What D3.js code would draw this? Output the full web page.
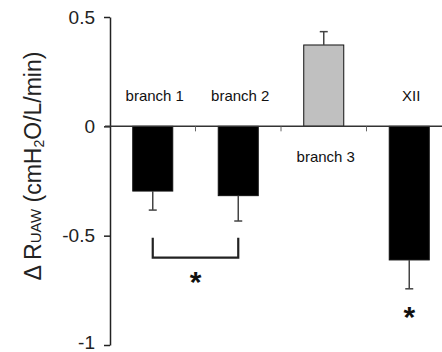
<!DOCTYPE html>
<html>
<head>
<meta charset="utf-8">
<script src="https://cdn.jsdelivr.net/npm/d3@7"></script>
<style>
  body { margin: 0; background: #fff; }
  text { font-family: "Liberation Sans", Arial, sans-serif; }
</style>
</head>
<body>
<svg id="chart" width="442" height="352"></svg>
<script>
// data
var categories = ['branch 1', 'branch 2', 'branch 3', 'XII']
var means = [-0.296, -0.317, 0.372, -0.611]
var errors = [0.087, 0.116, 0.061, 0.132]
var barColors = ['#000', '#000', '#c0c0c0', '#000']
var yTicks = [0.5, 0, -0.5, -1]
var yTickLabels = ['0.5', '0', '-0.5', '-1']
// significance marks
var bracketFrom = 'branch 1', bracketTo = 'branch 2'
var bracketTop = -0.51, bracketBottom = -0.6
var stars = [
  { between: ['branch 1', 'branch 2'], value: -0.69 },
  { between: ['XII', 'XII'], value: -0.85 }
]

var svg = d3.select('#chart')

var y = d3.scaleLinear().domain([-1, 0.5]).range([345, 17])
var x = d3.scaleBand().domain(categories).range([110, 452])
  .paddingInner(0.532).paddingOuter(0.266)
var bw = x.bandwidth()
var step = x.step()
function cx(c) { return x(c) + bw / 2 }

// y axis
var yAxis = d3.axisLeft(y).tickValues(yTicks)
  .tickFormat(function(d, i) { return yTickLabels[i] })
  .tickSize(6).tickSizeOuter(0).tickPadding(9)
var ga = svg.append('g').attr('transform', 'translate(110,0)').call(yAxis)
ga.select('.domain').attr('stroke', '#222').attr('stroke-width', 1.5)
ga.selectAll('.tick line').attr('stroke', '#222').attr('stroke-width', 1.5)
ga.selectAll('.tick text').attr('font-size', 19).attr('fill', '#222')
  .attr('font-family', '"Liberation Sans", Arial, sans-serif')
  .attr('dy', function(d) { return d === -1 ? '0.16em' : '0.32em' })

// axis title
var title = svg.append('text')
  .attr('transform', 'translate(41,' + 166 + ') rotate(-90)')
  .attr('text-anchor', 'middle')
  .attr('font-size', 23).attr('fill', '#222')
title.append('tspan').text('\u0394 R')
title.append('tspan').attr('font-size', 15).text('UAW')
title.append('tspan').text(' (cmH')
title.append('tspan').attr('font-size', 14).attr('dy', 3).text('2')
title.append('tspan').attr('dy', -3).text('O/L/min)')

// bars
svg.selectAll('rect.bar').data(categories).enter().append('rect')
  .attr('class', 'bar')
  .attr('x', function(d) { return x(d) })
  .attr('width', bw)
  .attr('y', function(d, i) { return y(Math.max(0, means[i])) })
  .attr('height', function(d, i) { return Math.abs(y(means[i]) - y(0)) })
  .attr('fill', function(d, i) { return barColors[i] })
  .attr('stroke', '#111').attr('stroke-width', 1)

// error bars (one-sided)
var eb = svg.selectAll('g.err').data(categories).enter().append('g')
eb.append('line')
  .attr('x1', cx).attr('x2', cx)
  .attr('y1', function(d, i) { return y(means[i]) })
  .attr('y2', function(d, i) { return y(means[i] + Math.sign(means[i]) * errors[i]) })
eb.append('line')
  .attr('x1', function(d) { return cx(d) - 4 }).attr('x2', function(d) { return cx(d) + 4 })
  .attr('y1', function(d, i) { return y(means[i] + Math.sign(means[i]) * errors[i]) })
  .attr('y2', function(d, i) { return y(means[i] + Math.sign(means[i]) * errors[i]) })
eb.selectAll('line').attr('stroke', '#444').attr('stroke-width', 1.5)

// zero line with category ticks
svg.append('line').attr('x1', 105).attr('x2', 442)
  .attr('y1', y(0)).attr('y2', y(0))
  .attr('stroke', '#333').attr('stroke-width', 1.5)
svg.selectAll('line.sep').data(categories.slice(1)).enter().append('line')
  .attr('x1', function(d) { return x(d) - (step - bw) / 2 })
  .attr('x2', function(d) { return x(d) - (step - bw) / 2 })
  .attr('y1', y(0)).attr('y2', y(0) + 5)
  .attr('stroke', '#666').attr('stroke-width', 1)

// category labels
svg.selectAll('text.cat').data(categories).enter().append('text')
  .attr('x', function(d) { return cx(d) + 2 })
  .attr('y', function(d, i) { return means[i] < 0 ? y(0) - 25 : y(0) + 36 })
  .attr('text-anchor', 'middle').attr('font-size', 15).attr('fill', '#111')
  .text(function(d) { return d })

// bracket
svg.append('path')
  .attr('d', 'M' + cx(bracketFrom) + ',' + y(bracketTop) + 'V' + y(bracketBottom) +
    'H' + cx(bracketTo) + 'V' + y(bracketTop))
  .attr('fill', 'none').attr('stroke', '#222').attr('stroke-width', 2.2)

// stars
svg.selectAll('text.star').data(stars).enter().append('text')
  .attr('x', function(d) { return (cx(d.between[0]) + cx(d.between[1])) / 2 })
  .attr('y', function(d) { return y(d.value) + 15 })
  .attr('text-anchor', 'middle').attr('font-size', 30).attr('font-weight', 'bold')
  .attr('fill', '#111')
  .text('*')
</script>
</body>
</html>
